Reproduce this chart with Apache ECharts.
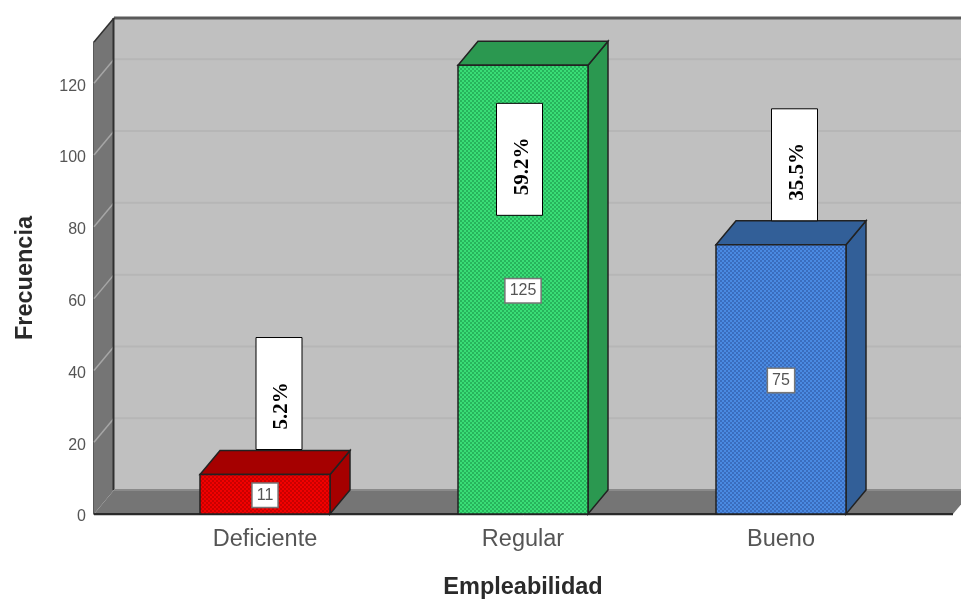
<!DOCTYPE html>
<html>
<head>
<meta charset="utf-8">
<style>html,body{margin:0;padding:0;background:#fff}#c{width:961px;height:599px}</style>
<script src="https://cdn.jsdelivr.net/npm/echarts@6/dist/echarts.min.js"></script>
</head>
<body>
<div id="c"></div>
<script>
var categories = ['Deficiente', 'Regular', 'Bueno'];
var frequencies = [11, 125, 75];
var percentLabels = ['5.2%', '59.2%', '35.5%'];
var yTicks = [0, 20, 40, 60, 80, 100, 120];
var xTitle = 'Empleabilidad';
var yTitle = 'Frecuencia';

// styling and layout, separate from the data
var frontA = ['#f20000', '#39dd76', '#4a8ae2'];
var frontB = ['#c90000', '#27b45c', '#3a6dbe'];
var sideColors = ['#a50000', '#2b9850', '#325f98'];
var DX = 20, DY = -24, BAR_W = 130;
var pctDx = [14, -3.5, 13.5];      // hand-placed percentage boxes, offset from bar centre
var pctDy = [-25, 150, -24];       // bottom of box, offset from bar top

function pattern(a, b) {
  var c = document.createElement('canvas');
  c.width = c.height = 4;
  var g = c.getContext('2d');
  g.fillStyle = a; g.fillRect(0, 0, 4, 4);
  g.fillStyle = b; g.fillRect(0, 0, 2, 2); g.fillRect(2, 2, 2, 2);
  return { image: c, repeat: 'repeat' };
}
var fills = frontA.map(function (a, i) { return pattern(a, frontB[i]); });

function renderFrame(params, api) {
  var cs = params.coordSys;
  var L = cs.x - 42, R = cs.x + cs.width + 43, B = cs.y + cs.height, T = cs.y;
  var kids = [];
  function poly(pts, fill, stroke, lw) {
    kids.push({ type: 'polygon', shape: { points: pts }, style: { fill: fill, stroke: stroke || null, lineWidth: lw || 1 } });
  }
  function line(x1, y1, x2, y2, c, lw) {
    kids.push({ type: 'line', shape: { x1: x1, y1: y1, x2: x2, y2: y2 }, style: { stroke: c, lineWidth: lw || 1, fill: null } });
  }
  // back wall
  poly([[L + DX, T + DY], [R + DX, T + DY], [R + DX, B + DY], [L + DX, B + DY]], '#c0c0c0');
  // left wall and floor
  poly([[L, T], [L + DX, T + DY], [L + DX, B + DY], [L, B]], '#757575');
  poly([[L, B], [L + DX, B + DY], [R + DX, B + DY], [R, B]], '#757575');
  // gridlines
  yTicks.slice(1).forEach(function (v) {
    var y = api.coord([0, v])[1];
    line(L, y, L + DX, y + DY, '#a6a6a6', 1.5);
    line(L + DX, y + DY, R + DX, y + DY, '#b6b6b6', 2);
  });
  // edges
  line(L + DX, T + DY, R + DX, T + DY, '#5a5a5a', 3);
  line(L + DX - 0.5, T + DY, L + DX - 0.5, B + DY, '#303030', 2);
  line(L, T, L + DX, T + DY, '#303030', 1.5);
  line(L + DX, B + DY, R + DX, B + DY, '#8a8a8a', 2);
  line(L, B, R, B, '#2a2a2a', 2);
  line(L, B + 1.5, R, B + 1.5, '#c8c8c8', 1);
  return { type: 'group', children: kids };
}

function renderBar(params, api) {
  var i = api.value(0), v = api.value(1);
  var p = api.coord([i, v]), o = api.coord([i, 0]);
  var l = p[0] - BAR_W / 2, r = p[0] + BAR_W / 2, t = p[1], b = o[1];
  var edge = '#222';
  function poly(pts, fill) {
    return { type: 'polygon', shape: { points: pts }, style: { fill: fill, stroke: edge, lineWidth: 1.5 } };
  }
  return { type: 'group', children: [
    poly([[r, t], [r + DX, t + DY], [r + DX, b + DY], [r, b]], sideColors[i]),
    poly([[l, t], [l + DX, t + DY], [r + DX, t + DY], [r, t]], sideColors[i]),
    poly([[l, t], [r, t], [r, b], [l, b]], fills[i])
  ] };
}

function renderLabels(params, api) {
  var i = api.value(0), v = api.value(1);
  var p = api.coord([i, v]), o = api.coord([i, 0]);
  var cx = p[0] + pctDx[i], bot = p[1] + pctDy[i];
  return { type: 'group', children: [
    { type: 'rect', shape: { x: cx - 23, y: bot - 112, width: 46, height: 112 },
      style: { fill: '#fff', stroke: '#000', lineWidth: 1 } },
    { type: 'text', x: cx + 3, y: bot - 20, rotation: Math.PI / 2,
      style: { text: percentLabels[i], x: 0, y: 0, align: 'left', verticalAlign: 'middle',
        font: 'bold 21px "Liberation Serif"', fill: '#000' } },
    { type: 'text', x: p[0], y: (p[1] + o[1]) / 2 + 1,
      style: { text: String(frequencies[i]), x: 0, y: 0, align: 'center', verticalAlign: 'middle',
        font: '16px "Liberation Sans"', fill: '#555',
        backgroundColor: '#fff', borderColor: '#777', borderWidth: 1.5, padding: [4, 4, 3, 4] } }
  ] };
}

var rows = categories.map(function (c, i) { return [i, frequencies[i]]; });
var chart = echarts.init(document.getElementById('c'), null, { renderer: 'canvas' });
chart.setOption({
  animation: false,
  backgroundColor: '#fff',
  grid: { left: 136, width: 774, top: 42, height: 472, containLabel: false, outerBoundsMode: 'none' },
  xAxis: {
    type: 'category', data: categories,
    axisLine: { show: false }, axisTick: { show: false },
    axisLabel: { margin: 14, fontFamily: 'Liberation Sans', fontSize: 23.5, color: '#555' },
    name: xTitle, nameLocation: 'center', nameGap: 62,
    nameTextStyle: { fontFamily: 'Liberation Sans', fontWeight: 'bold', fontSize: 23.5, color: '#2a2a2a' }
  },
  yAxis: {
    type: 'value', min: 0, max: 131.5, interval: 20, offset: 42,
    axisLine: { show: true, onZero: false, lineStyle: { color: '#222', width: 1.5 } },
    axisTick: { show: false },
    axisLabel: { margin: 8, fontFamily: 'Liberation Sans', fontSize: 16, color: '#555', customValues: yTicks, verticalAlign: 'top', lineHeight: 6 },
    splitLine: { show: false },
    name: yTitle, nameLocation: 'center', nameGap: 56, nameRotate: 90,
    nameTextStyle: { fontFamily: 'Liberation Sans', fontWeight: 'bold', fontSize: 23.5, color: '#2a2a2a' }
  },
  series: [
    { type: 'custom', z: 1, data: [[0, 0]], renderItem: renderFrame, silent: true },
    { type: 'custom', z: 2, data: rows, renderItem: renderBar, silent: true },
    { type: 'custom', z: 3, data: rows, renderItem: renderLabels, silent: true }
  ]
});
</script>
</body>
</html>
